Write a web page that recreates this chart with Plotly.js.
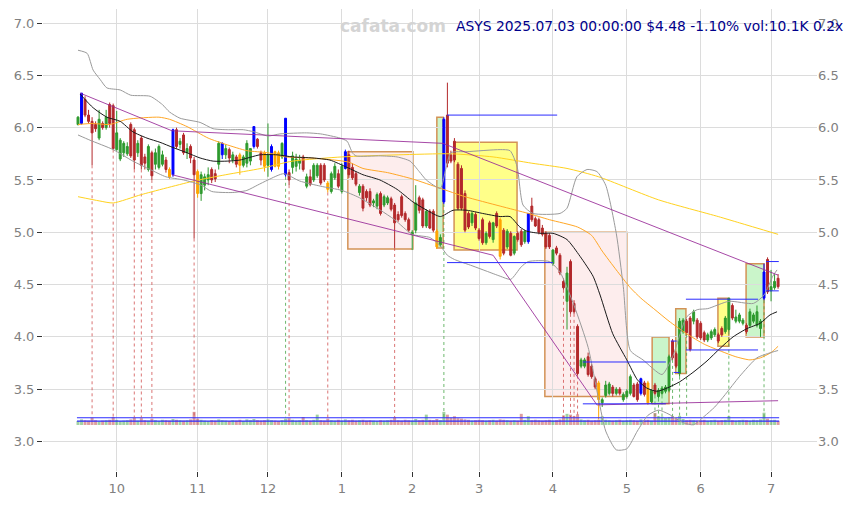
<!DOCTYPE html>
<html><head><meta charset="utf-8">
<script src="https://cdn.plot.ly/plotly-3.0.1.min.js"></script>
<style>html,body{margin:0;padding:0;background:#fff}#chart{width:858px;height:505px}</style>
</head><body><div id="chart"></div>
<script>
// x axis = trading-day index (2024-09-16 .. 2025-07-03); ticks at first trading day of each month
const monthTickIdx  = [11,34,54,75,95,114,135,156,177,197];
const monthTickText = ['10','11','12','1','2','3','4','5','6','7'];

const open = [6.03,6.04,6.27,6.12,6.06,6.03,5.90,6.04,6.00,6.22,6.21,5.79,5.70,5.76,5.75,6.03,5.98,5.76,5.90,5.72,
5.60,5.76,5.65,5.62,5.65,5.69,5.60,5.55,5.98,5.84,5.93,5.76,5.82,5.69,5.58,5.37,5.45,5.50,5.60,5.56,
5.65,5.74,5.74,5.79,5.69,5.72,5.74,5.64,5.66,5.68,5.82,5.89,5.76,5.76,5.64,5.60,5.77,5.76,5.72,5.55,
5.57,5.62,5.63,5.66,5.72,5.44,5.53,5.50,5.54,5.64,5.64,5.47,5.39,5.52,5.56,5.39,5.61,5.74,5.62,5.56,
5.38,5.44,5.39,5.39,5.28,5.25,5.37,5.26,5.28,5.32,5.26,5.17,5.34,5.18,5.12,4.98,5.02,5.33,5.31,5.06,
5.20,5.20,5.01,4.88,5.29,6.12,5.74,5.87,5.65,5.61,5.37,5.18,5.09,5.17,5.02,5.12,4.90,5.09,4.93,5.18,
5.12,5.02,4.86,4.99,4.80,4.99,5.01,4.91,4.91,5.25,5.13,5.12,5.04,4.99,4.97,4.70,4.85,4.78,4.53,4.34,
4.72,4.32,4.10,3.72,3.72,3.81,3.72,3.60,3.56,3.37,3.44,3.46,3.52,3.46,3.50,3.40,3.43,3.46,3.54,3.55,
3.46,3.56,3.56,3.38,3.54,3.43,3.46,3.48,3.49,3.96,3.84,3.65,4.05,4.15,4.18,4.15,4.16,4.13,4.04,3.97,
3.99,4.02,4.02,4.08,4.05,4.07,4.30,4.15,4.15,4.13,4.11,4.11,4.15,4.11,4.08,4.37,4.74,4.44,4.47,4.56];
const high = [6.11,6.33,6.30,6.17,6.10,6.06,6.17,6.06,6.17,6.24,6.23,6.16,5.90,5.87,5.86,6.05,6.00,5.88,5.92,5.75,
5.84,5.78,5.80,5.84,5.78,5.72,5.62,5.99,6.00,5.90,5.95,5.85,5.84,5.72,5.60,5.58,5.56,5.62,5.62,5.60,
5.87,5.86,5.84,5.81,5.77,5.74,5.76,5.74,5.88,5.80,6.01,5.90,5.78,5.78,6.04,5.84,5.78,5.78,5.86,6.09,
5.60,5.77,5.75,5.74,5.74,5.56,5.60,5.66,5.66,5.66,5.66,5.49,5.58,5.66,5.60,5.66,5.79,5.78,5.66,5.58,
5.46,5.46,5.41,5.42,5.32,5.38,5.39,5.36,5.35,5.34,5.28,5.20,5.36,5.20,5.14,5.02,5.45,5.35,5.33,5.22,
5.22,5.22,5.03,4.98,6.10,6.43,5.78,5.90,5.67,5.64,5.40,5.20,5.20,5.19,5.04,5.14,5.01,5.11,5.10,5.20,
5.14,5.04,5.03,5.01,4.97,5.01,5.03,5.02,5.18,5.33,5.15,5.14,5.07,5.01,4.99,4.84,4.87,4.80,4.56,4.67,
4.74,4.35,4.12,3.80,3.80,3.85,3.74,3.62,3.58,3.42,3.58,3.57,3.54,3.52,3.52,3.47,3.50,3.64,3.56,3.57,
3.61,3.58,3.58,3.50,3.56,3.51,3.53,3.54,3.83,3.98,3.86,4.18,4.18,4.17,4.20,4.26,4.18,4.15,4.06,4.04,
4.07,4.09,4.04,4.10,4.20,4.37,4.32,4.26,4.23,4.18,4.13,4.27,4.23,4.30,4.17,4.70,4.76,4.64,4.60,4.60];
const low = [6.02,6.03,6.10,6.04,5.64,5.96,5.88,5.98,5.98,6.00,5.79,5.78,5.68,5.72,5.73,5.71,5.60,5.72,5.60,5.60,
5.58,5.50,5.60,5.60,5.63,5.57,5.51,5.53,5.80,5.80,5.74,5.70,5.66,4.94,5.33,5.30,5.40,5.45,5.47,5.48,
5.60,5.70,5.70,5.66,5.66,5.62,5.55,5.62,5.62,5.64,5.80,5.80,5.64,5.58,5.53,5.58,5.62,5.60,5.70,5.53,
5.45,5.56,5.58,5.60,5.58,5.42,5.44,5.48,5.52,5.45,5.48,5.38,5.37,5.50,5.42,5.37,5.60,5.52,5.50,5.44,
5.35,5.20,5.30,5.24,5.24,5.22,5.16,5.24,5.26,5.20,4.85,5.10,5.14,5.10,5.00,4.83,4.99,5.18,5.04,5.04,
5.03,5.00,4.84,4.86,5.27,5.62,5.66,5.67,5.21,5.21,5.00,5.03,5.06,5.02,4.92,4.88,4.88,4.94,4.90,5.04,
4.74,4.78,4.84,4.77,4.78,4.91,4.86,4.89,4.89,5.10,5.05,4.98,4.96,4.84,4.84,4.68,4.78,4.59,4.45,4.07,
4.22,4.22,3.63,3.70,3.70,3.62,3.60,3.50,3.21,3.33,3.42,3.44,3.43,3.44,3.44,3.38,3.41,3.44,3.42,3.38,
3.44,3.43,3.35,3.36,3.44,3.41,3.44,3.46,3.47,3.78,3.70,3.62,4.03,4.02,3.86,4.12,3.98,3.97,3.95,3.95,
3.97,4.00,3.94,4.00,4.03,4.05,4.16,4.13,4.13,4.11,4.03,4.09,4.13,4.09,4.00,4.35,4.41,4.34,4.45,4.46];
const close = [6.10,6.33,6.12,6.06,5.95,5.99,6.08,6.00,6.10,6.04,5.80,5.95,5.88,5.85,5.82,5.73,5.69,5.85,5.64,5.66,
5.82,5.54,5.76,5.82,5.74,5.60,5.53,5.98,5.82,5.87,5.76,5.80,5.71,5.55,5.37,5.55,5.53,5.55,5.50,5.51,
5.85,5.85,5.80,5.71,5.74,5.65,5.64,5.72,5.85,5.80,6.01,5.82,5.69,5.63,5.74,5.82,5.63,5.63,5.85,6.09,
5.50,5.73,5.70,5.69,5.60,5.53,5.46,5.64,5.64,5.47,5.50,5.41,5.56,5.63,5.44,5.63,5.77,5.55,5.52,5.46,
5.44,5.23,5.33,5.26,5.30,5.36,5.18,5.34,5.33,5.22,5.09,5.12,5.16,5.12,5.02,5.00,5.28,5.21,5.06,5.20,
5.04,5.02,4.86,4.95,6.08,5.66,5.68,5.69,5.23,5.23,5.02,5.05,5.18,5.04,4.94,4.90,4.99,4.96,5.09,5.06,
4.77,4.80,5.01,4.78,4.96,4.93,4.88,5.01,5.18,5.12,5.06,5.00,4.98,4.86,4.86,4.83,4.80,4.61,4.47,4.61,
4.24,4.24,3.65,3.78,3.78,3.64,3.62,3.52,3.40,3.40,3.54,3.55,3.46,3.50,3.46,3.45,3.48,3.62,3.43,3.40,
3.60,3.45,3.37,3.49,3.46,3.49,3.51,3.52,3.81,3.80,3.72,4.15,4.16,4.04,3.88,4.24,4.00,3.99,3.97,4.02,
4.05,4.07,3.96,4.02,4.18,4.37,4.18,4.19,4.21,4.16,4.05,4.24,4.21,4.24,4.15,4.62,4.43,4.48,4.53,4.48];
// volume in thousands
const volK = [10,14,12,11,18,12,9,11,12,13, 20,13,10,11,12,14,18,11,17,12, 11,16,12,10,13,12,11,15,13,12,
11,12,14,33,16,13,11,10,12,11, 14,12,11,10,12,11,13,10,14,12, 15,12,11,12,14,12,11,10,12,16,
17,13,11,12,20,12,11,13,26,12, 11,16,12,11,13,11,14,12,13,11, 12,13,11,12,11,10,12,11,12,13,
19,12,11,13,12,11,15,12,13,26, 13,12,15,12,33,26,18,22,17,16, 14,13,11,12,13,12,11,12,13,11,
14,13,12,11,12,11,28,13,22,12, 13,12,11,12,13,11,12,14,24,28, 26,22,27,14,12,13,11,12,13,22,
13,12,11,12,13,11,12,13,12,11, 14,12,13,11,30,22,21,18,20,22, 17,23,15,12,13,12,11,12,13,11,
12,13,11,12,13,22,12,11,12,13, 12,11,13,12,14,31,16,12,13,10.1];

// highlighted candles
const blueIdx   = [1,27,41,50,55,59,76,104,128,160,195];
const orangeIdx = [26,34,46,53,56,57,71,102,120,148,162];
// dotted markers (from candle low)
const redDotIdx   = [4,10,16,18,21,33,60,71,90,138,140,141,142];
const greenDotIdx = [59,104,164,165,166,169,171,173,185,195];

// moving averages & bands: [index, price] samples
const ma20 = [[0.6,6.32],[4.3,6.19],[8.2,6.10],[12,6.06],[15.6,5.96],[19.6,5.90],[23.3,5.86],[27,5.81],[31,5.76],[34.7,5.71],[38.4,5.68],[42.4,5.68],[46,5.69],[51.7,5.74],[56.6,5.74],[61,5.72],[66.8,5.71],[71.6,5.69],[76.5,5.62],[81,5.55],[85.8,5.50],[90.7,5.41],[95.2,5.29],[99.2,5.21],[103,5.15],[106.6,5.21],[110.6,5.21],[115,5.18],[120,5.15],[122.8,5.15],[125.6,5.05],[127.6,5.01],[131.3,4.99],[135,4.99],[139,4.93],[142.7,4.77],[146.4,4.58],[148.4,4.40],[152,4.03],[156,3.78],[159,3.59],[161.7,3.51],[164.6,3.48],[167.4,3.51],[171,3.57],[174.8,3.66],[178.8,3.77],[182.5,3.89],[186.2,4.00],[190.2,4.08],[193.9,4.13],[196.7,4.21],[198.7,4.24]];
const bandUp = [[0,6.74],[2.6,6.71],[4.3,6.55],[6.3,6.46],[8.2,6.38],[12,6.36],[15,6.31],[20.5,6.30],[24,6.22],[26,6.15],[29,6.09],[34.7,6.05],[38.4,5.99],[42.4,5.98],[47,5.98],[50,5.96],[54,5.92],[57.4,5.94],[65,5.95],[69,5.94],[74.5,5.90],[76.5,5.87],[78,5.76],[79,5.73],[86,5.73],[90.7,5.72],[94.4,5.68],[97,5.58],[99,5.50],[103,5.42],[104.5,5.60],[106,5.76],[110.6,5.77],[120,5.79],[122.8,5.78],[124.8,5.63],[126.5,5.26],[129.3,5.18],[137,5.18],[139,5.23],[141.8,5.53],[144.7,5.60],[147.5,5.58],[150,5.45],[153,4.99],[155,4.48],[157,3.87],[160.6,3.78],[166,3.64],[169,3.81],[173,4.19],[176,4.26],[179,4.27],[185,4.34],[192,4.32],[195,4.40],[197.5,4.58],[198.7,4.64]];
const bandLo = [[0,5.93],[3.4,5.88],[10,5.79],[15.6,5.68],[20.5,5.60],[25,5.53],[30,5.50],[35,5.45],[38,5.39],[44,5.38],[48,5.40],[51,5.45],[54,5.50],[58.5,5.56],[63,5.49],[69,5.44],[75,5.40],[80,5.33],[86,5.21],[90,5.12],[95,4.98],[100,4.95],[103,4.87],[105,4.78],[107,4.74],[112,4.68],[116,4.63],[120,4.58],[123,4.55],[126,4.67],[128,4.72],[134,4.72],[137,4.62],[141,4.30],[145,3.90],[148,3.40],[150,3.10],[153,2.92],[156,2.93],[159,3.10],[162,3.25],[165,3.30],[168,3.26],[172,3.18],[175,3.16],[178,3.24],[181,3.33],[184,3.45],[188,3.62],[193,3.80],[196,3.84],[199,3.87]];
const ma50 = [[0,6.03],[4,6.04],[9,6.03],[14,6.08],[23,6.10],[26,6.08],[31,6.01],[37,5.90],[42,5.84],[48,5.78],[54,5.76],[59,5.72],[66,5.71],[73,5.69],[77,5.67],[81,5.61],[88,5.57],[95,5.51],[103,5.42],[110,5.34],[120,5.25],[128,5.18],[134,5.12],[142,5.05],[146,4.97],[149,4.82],[153,4.64],[157,4.47],[160,4.37],[164,4.26],[168,4.15],[173,4.03],[178,3.93],[183,3.86],[187,3.81],[191,3.78],[194,3.80],[197,3.85],[199,3.91]];
const ma200 = [[0,5.34],[6,5.30],[10,5.28],[18,5.36],[33,5.49],[42,5.55],[52,5.61],[61,5.68],[75,5.72],[91,5.74],[106,5.75],[118,5.72],[129,5.66],[139,5.61],[148,5.53],[165,5.31],[182,5.15],[188,5.09],[199,4.98]];

// trend lines (purple)
const trendUpper = [[0.6,6.33],[26.7,5.97],[103.7,5.85],[199,4.59]];
const trendLower = [[26.7,5.55],[118,4.78],[147.5,3.35],[199,3.39]];

// zones: [x0, x1, yTop, yBottom, kind]
const zones = [[76.7,95.2,5.77,4.84,'pink'],[132.7,156,5.00,3.43,'pink'],[106.9,124.8,5.86,4.83,'yellow'],
 [181.9,185,4.37,3.91,'yellow'],[102,103.8,6.10,4.85,'green'],[163.2,168,4.00,3.36,'green'],
 [169.9,172.8,4.27,3.65,'green'],[189.9,195,4.70,4.00,'green']];
// blue support/resistance segments: [x0, x1, price]
const levels = [[104.9,136.2,6.12],[104.9,135,4.71],[143.5,167.1,3.76],[143.5,167.1,3.36],[172.8,193.3,4.36],
 [172.8,193.3,3.875],[195.6,199.2,4.72],[195.6,199.2,4.44],[168.5,170.2,3.96],[169.3,171,3.66]];
// volume reference lines (price-scale positions of vol averages)
const volLines = [3.227,3.194];
const volBase = 3.158, volPerK = 0.0038, dotEnd = 3.23;

const N = close.length;
const idx = Array.from({length:N},(_,i)=>i);
const pick = (a,ids)=>ids.map(i=>a[i]);
const special = new Set(blueIdx.concat(orangeIdx));
const normIdx = idx.filter(i=>!special.has(i));
const GREEN='#2e9a2e', RED='#b3292b';

function candle(ids, inc, dec){
  return {type:'candlestick', x:ids, open:pick(open,ids), high:pick(high,ids), low:pick(low,ids), close:pick(close,ids),
    increasing:{line:{color:inc,width:1}, fillcolor:inc}, decreasing:{line:{color:dec,width:1}, fillcolor:dec},
    whiskerwidth:0, hoverinfo:'skip', showlegend:false};
}
function line(pts, color, width, dash){
  return {type:'scatter', mode:'lines', x:pts.map(p=>p[0]), y:pts.map(p=>p[1]),
    line:{color:color, width:width, shape:'spline', smoothing:0.6, dash:dash||'solid'}, hoverinfo:'skip', showlegend:false};
}
function polyline(pts, color, width){
  return {type:'scatter', mode:'lines', x:pts.map(p=>p[0]), y:pts.map(p=>p[1]), line:{color:color,width:width}, hoverinfo:'skip', showlegend:false};
}
function dots(ids, color){
  const xs=[], ys=[];
  ids.forEach(i=>{xs.push(i,i,null); ys.push(low[i],dotEnd,null);});
  return {type:'scatter', mode:'lines', x:xs, y:ys, line:{color:color,width:1,dash:'dot'}, hoverinfo:'skip', showlegend:false};
}

const traces = [];
traces.push({type:'bar', x:idx, y:volK.map(v=>v*volPerK), base:volBase, width:0.85,
  marker:{color:idx.map(i=>close[i]>=open[i]?'rgba(46,154,46,0.45)':'rgba(179,41,43,0.45)'), line:{width:0}},
  hoverinfo:'skip', showlegend:false});
volLines.forEach(v=>traces.push({type:'scatter',mode:'lines',x:[-0.3,199.3],y:[v,v],line:{color:'#2b2bff',width:1.2},hoverinfo:'skip',showlegend:false}));
traces.push(dots(redDotIdx,'rgba(205,70,70,0.75)'));
traces.push(dots(greenDotIdx,'rgba(60,160,60,0.75)'));
traces.push(line(ma200,'#ffd21f',1));
traces.push(line(ma50,'#ffa726',1));
traces.push(line(bandUp,'#9a9a9a',1));
traces.push(line(bandLo,'#9a9a9a',1));
traces.push(polyline(trendUpper,'rgba(150,40,150,0.85)',1));
traces.push(polyline(trendLower,'rgba(150,40,150,0.85)',1));
traces.push(line(ma20,'#1a1a1a',1));
traces.push(candle(normIdx,GREEN,RED));
traces.push(candle(blueIdx,'#0000ff','#0000ff'));
traces.push(candle(orangeIdx,'#ffa500','#ffa500'));
{
  const xs=[], ys=[];
  levels.forEach(l=>{xs.push(l[0],l[1],null); ys.push(l[2],l[2],null);});
  traces.push({type:'scatter',mode:'lines',x:xs,y:ys,line:{color:'#2b2bff',width:1},hoverinfo:'skip',showlegend:false});
}
// invisible trace to activate right axis
traces.push({type:'scatter',mode:'markers',x:[0],y:[5],yaxis:'y2',marker:{opacity:0},hoverinfo:'skip',showlegend:false});

const fills = {pink:'rgba(250,200,200,0.32)', yellow:'rgba(255,255,40,0.55)', green:'rgba(150,235,150,0.5)'};
const shapes = zones.map(z=>({type:'rect', xref:'x', yref:'y', x0:z[0], x1:z[1], y0:z[3], y1:z[2],
  fillcolor:fills[z[4]], line:{color:'#d39255', width:1.5}, layer:'below'}));

const yTicks=[3,3.5,4,4.5,5,5.5,6,6.5,7];
const yText=yTicks.map(v=>v.toFixed(1));
const yRange=[2.718,7.134];
const tickFont={family:'DejaVu Sans, sans-serif', size:13, color:'#808080'};

const layout = {
  width:858, height:505, margin:{l:43,r:41,t:9,b:34},
  paper_bgcolor:'#ffffff', plot_bgcolor:'#ffffff', showlegend:false, hovermode:false,
  barmode:'overlay', bargap:0.15, boxgap:0.22,
  xaxis:{range:[-9.95,210.06], tickvals:monthTickIdx, ticktext:monthTickText, showgrid:true, gridcolor:'#dcdcdc', gridwidth:1,
    ticks:'outside', ticklen:5, tickcolor:'#333', tickfont:tickFont, zeroline:false, showline:false,
    rangeslider:{visible:false}, fixedrange:true},
  yaxis:{range:yRange, tickvals:yTicks, ticktext:yText, showgrid:true, gridcolor:'#dcdcdc', gridwidth:1,
    ticks:'outside', ticklen:5, tickcolor:'#333', tickfont:tickFont, zeroline:false, showline:false, fixedrange:true},
  yaxis2:{range:yRange, overlaying:'y', side:'right', tickvals:yTicks, ticktext:yText, showgrid:false,
    ticks:'', tickfont:tickFont, zeroline:false, showline:false, fixedrange:true},
  shapes:shapes,
  annotations:[
    {xref:'paper', yref:'paper', x:0.4522, y:0.963, xanchor:'center', yanchor:'middle', showarrow:false,
     text:'<b>cafata.com</b>', font:{family:'DejaVu Sans, sans-serif', size:17, color:'#d4d4d4'}},
    {xref:'paper', yref:'paper', x:1.0368, y:0.963, xanchor:'right', yanchor:'middle', showarrow:false,
     text:'ASYS 2025.07.03 00:00:00 $4.48 -1.10% vol:10.1K 0.2x', font:{family:'DejaVu Sans, sans-serif', size:13.85, color:'#00008b'}}
  ]
};
Plotly.newPlot('chart', traces, layout, {displayModeBar:false, staticPlot:true});
</script>
</body></html>
